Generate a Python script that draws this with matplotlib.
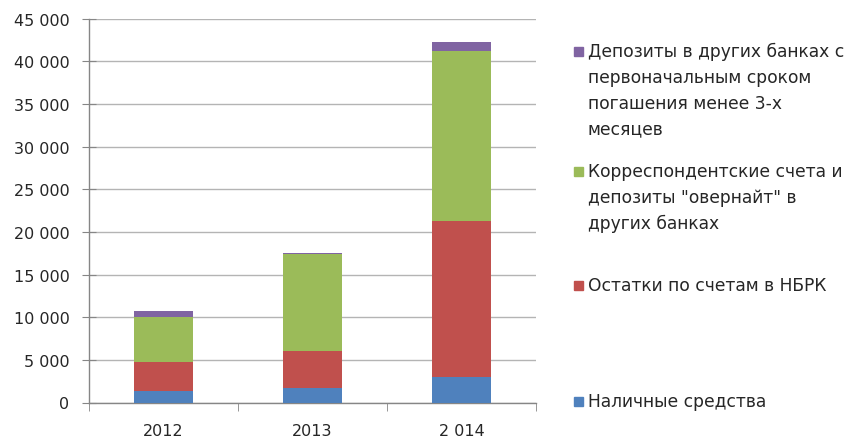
import matplotlib
matplotlib.use("Agg")
import matplotlib.pyplot as plt
from matplotlib.patches import Rectangle
from matplotlib.ticker import FuncFormatter, MultipleLocator
import numpy as np

years = ["2012", "2013", "2 014"]
cash = [1300, 1700, 3000]
nbrk = [3400, 4300, 18250]
corr = [5300, 11350, 20000]
deposits = [700, 150, 950]

series_names = [
    "Наличные средства",
    "Остатки по счетам в НБРК",
    "Корреспондентские счета и\nдепозиты \"овернайт\" в\nдругих банках",
    "Депозиты в других банках с\nпервоначальным сроком\nпогашения менее 3-х\nмесяцев",
]
colors = ["#4F81BD", "#C0504D", "#9BBB59", "#8064A2"]

plt.rcParams['font.family'] = ['DejaVu Sans']
W, H = 845, 439
fig = plt.figure(figsize=(W / 100, H / 100), dpi=100)
ax = fig.add_axes([89 / W, 1 - 403.5 / H, (536 - 89) / W, (403.5 - 19.5) / H])

x = np.arange(len(years))
bottom = np.zeros(len(years))
handles = []
for vals, c in zip([cash, nbrk, corr, deposits], colors):
    b = ax.bar(x, vals, bottom=bottom, width=0.4, color=c, zorder=3)
    handles.append(b)
    bottom += np.array(vals)

ax.set_xlim(-0.5, 2.5)
ax.set_ylim(0, 45000)
ax.yaxis.set_major_locator(MultipleLocator(5000))
ax.yaxis.set_major_formatter(FuncFormatter(lambda v, p: f"{int(v):,}".replace(",", " ")))
ax.grid(axis='y', color='#B4B4B4', linewidth=1.0, zorder=0)
for s in ['top', 'right']:
    ax.spines[s].set_visible(False)
for s in ['left', 'bottom']:
    ax.spines[s].set_color('#868686')
    ax.spines[s].set_linewidth(1.0)

ax.set_xticks(x)
ax.set_xticklabels(years)
ax.set_xticks([-0.5, 0.5, 1.5, 2.5], minor=True)
ax.tick_params(axis='x', which='major', length=0, pad=15, labelsize=11.5, labelcolor='#262626')
ax.tick_params(axis='x', which='minor', length=6, direction='out', color='#868686')
ax.tick_params(axis='y', which='major', length=10, direction='inout', color='#868686',
               pad=9, labelsize=11.5, labelcolor='#262626')

# legend, placed like the original (entries spread vertically)
legend_items = [(3, 52), (2, 172), (1, 286), (0, 402)]
for idx, ypix in legend_items:
    sq = 9
    fig.add_artist(Rectangle(((574) / W, 1 - (ypix + sq / 2) / H), sq / W, sq / H,
                             transform=fig.transFigure, color=colors[idx]))
    fig.text(588 / W, 1 - (ypix - 9) / H, series_names[idx], ha='left', va='top',
             fontsize=12.3, color='#262626', linespacing=1.55)

fig.savefig("out.png", dpi=100)
